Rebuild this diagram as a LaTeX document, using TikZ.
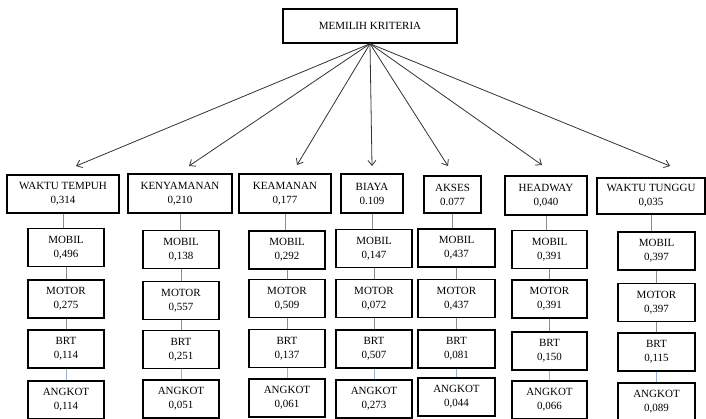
\documentclass[tikz,border=0pt]{standalone}
\usepackage{fontspec}
\setmainfont{Liberation Serif}
\usetikzlibrary{arrows.meta}
\definecolor{conngray}{RGB}{140,140,140}
\definecolor{connblue}{RGB}{150,175,215}
\tikzset{
  box/.style={draw=black, line width=1.5pt, fill=white, align=center, inner sep=0pt,
    font=\fontsize{11}{14}\selectfont},
  subbox/.style={box, minimum width=76pt, minimum height=38pt},
  arr/.style={draw=black!80, line width=0.8pt, -{Straight Barb[length=5pt,width=8pt]}},
  conn/.style={draw=conngray, line width=1pt},
  connb/.style={draw=connblue, line width=1pt}
}
\begin{document}
\begin{tikzpicture}[x=1pt,y=-1pt]
\useasboundingbox (0,0) rectangle (706,418);
\clip (0,0) rectangle (706,418);
\fill[white] (0,0) rectangle (706,418);

% top node
\node[box, minimum width=174pt, minimum height=34pt] (top) at (370,26) {MEMILIH KRITERIA};

% criteria
\node[box, minimum width=112pt, minimum height=38pt] (c1) at (63,194) {WAKTU TEMPUH\\0,314};
\node[box, minimum width=104pt, minimum height=39pt] (c2) at (180,193.5) {KENYAMANAN\\0,210};
\node[box, minimum width=92pt, minimum height=39pt] (c3) at (285,193.5) {KEAMANAN\\0,177};
\node[box, minimum width=62pt, minimum height=39pt] (c4) at (372,193.5) {BIAYA\\0.109};
\node[box, minimum width=57pt, minimum height=37pt] (c5) at (452.5,194.5) {AKSES\\0.077};
\node[box, minimum width=82pt, minimum height=39pt] (c6) at (546,195.5) {HEADWAY\\0,040};
\node[box, minimum width=108pt, minimum height=36pt] (c7) at (651,196) {WAKTU TUNGGU\\0,035};

% arrow tips
\coordinate (t1) at (76,166);
\coordinate (t2) at (189,166);
\coordinate (t3) at (297,165);
\coordinate (t4) at (372,166);
\coordinate (t5) at (448,166);
\coordinate (t6) at (542,165);
\coordinate (t7) at (670,166);
\foreach \i in {1,...,7} {\draw[arr] (top.south) -- (t\i);}

% column 1
\node[subbox] (m1) at (66,247.5) {MOBIL\\0,496};
\node[subbox] (o1) at (66,299) {MOTOR\\0,275};
\node[subbox] (b1) at (66,349) {BRT\\0,114};
\node[subbox] (a1) at (66,400) {ANGKOT\\0,114};
% column 2
\node[subbox] (m2) at (181,249.5) {MOBIL\\0,138};
\node[subbox] (o2) at (181,300.5) {MOTOR\\0,557};
\node[subbox] (b2) at (181,349.5) {BRT\\0,251};
\node[subbox] (a2) at (181,399) {ANGKOT\\0,051};
% column 3
\node[subbox] (m3) at (287,250) {MOBIL\\0,292};
\node[subbox] (o3) at (287,298.5) {MOTOR\\0,509};
\node[subbox] (b3) at (287,348.5) {BRT\\0,137};
\node[subbox] (a3) at (287,398) {ANGKOT\\0,061};
% column 4
\node[subbox] (m4) at (374,248.5) {MOBIL\\0,147};
\node[subbox] (o4) at (374,298.5) {MOTOR\\0,072};
\node[subbox] (b4) at (374,349) {BRT\\0,507};
\node[subbox] (a4) at (374,399) {ANGKOT\\0,273};
% column 5
\node[subbox, minimum width=77pt] (m5) at (456.5,248) {MOBIL\\0,437};
\node[subbox, minimum width=77pt] (o5) at (456.5,298.5) {MOTOR\\0,437};
\node[subbox, minimum width=77pt] (b5) at (456.5,349) {BRT\\0,081};
\node[subbox, minimum width=77pt] (a5) at (456.5,397) {ANGKOT\\0,044};
% column 6
\node[subbox, minimum width=75pt] (m6) at (549.5,249.5) {MOBIL\\0,391};
\node[subbox, minimum width=75pt] (o6) at (549.5,299) {MOTOR\\0,391};
\node[subbox, minimum width=75pt] (b6) at (549.5,351) {BRT\\0,150};
\node[subbox, minimum width=75pt] (a6) at (549.5,400) {ANGKOT\\0,066};
% column 7
\node[subbox, minimum width=77pt] (m7) at (656.5,251) {MOBIL\\0,397};
\node[subbox, minimum width=77pt] (o7) at (656.5,302.5) {MOTOR\\0,397};
\node[subbox, minimum width=77pt] (b7) at (656.5,352) {BRT\\0,115};
\node[subbox, minimum width=77pt] (a7) at (656.5,402) {ANGKOT\\0,089};

% connectors
\foreach \i in {1,...,7} {
  \draw[conn] (c\i.south) -- (c\i.south |- m\i.north);
  \draw[conn] (m\i.south) -- (o\i.north);
  \draw[conn] (o\i.south) -- (b\i.north);
  \draw[connb] (b\i.south) -- (a\i.north);
}
\end{tikzpicture}
\end{document}
